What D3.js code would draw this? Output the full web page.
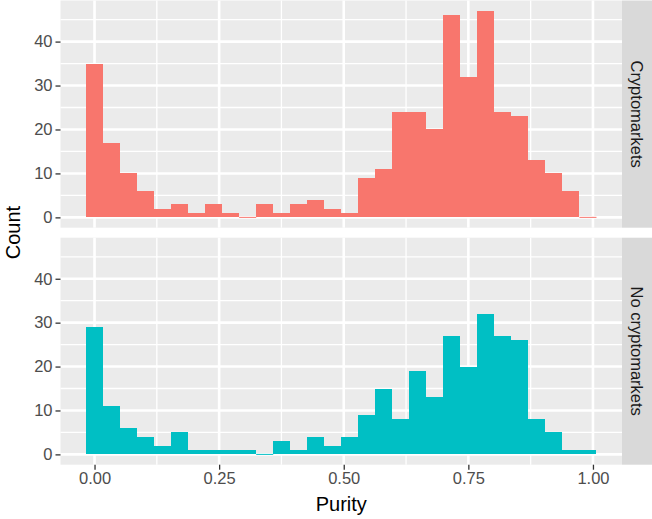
<!DOCTYPE html>
<html>
<head>
<meta charset="utf-8">
<script src="https://cdn.jsdelivr.net/npm/d3@7"></script>
<style>
  body { margin: 0; background: #fff; }
  svg { display: block; font-family: 'Liberation Sans', Arial, sans-serif; }
</style>
</head>
<body>
<svg id="chart"></svg>
<script>
// histogram counts, 30 bins centred on 0 .. 0.99
const purityMin = 0
const purityMax = 0.99
const binCount = 30
const facets = ['Cryptomarkets', 'No cryptomarkets']
const cryptoCounts = [35, 17, 10, 6, 2, 3, 1, 3, 1, 0, 3, 1, 3, 4, 2, 1, 9, 11, 24, 24, 20, 46, 32, 47, 24, 23, 13, 10, 6, 0]
const noCryptoCounts = [29, 11, 6, 4, 2, 5, 1, 1, 1, 1, 0, 3, 1, 4, 2, 4, 9, 15, 8, 19, 13, 27, 20, 32, 27, 26, 8, 5, 1, 1]
const colors = ['#F8766D', '#00BFC4']
const xTicks = [0, 0.25, 0.5, 0.75, 1]
const xMinor = [0.125, 0.375, 0.625, 0.875]
const yTicks = [0, 10, 20, 30, 40]
const yMinor = [5, 15, 25, 35, 45]

const width = 652
const height = 519
const svg = d3.select('#chart').attr('width', width).attr('height', height)

const panelLeft = 60.5
const panelRight = 622
const stripW = 30
const panels = [
    { top: 0.5, bottom: 227.7, counts: cryptoCounts },
    { top: 237.7, bottom: 464.7, counts: noCryptoCounts }
]

const bw = (purityMax - purityMin) / (binCount - 1)
const lo = purityMin - bw / 2
const hi = purityMax + bw / 2
const xPad = (hi - lo) * 0.05

const x = d3.scaleLinear()
    .domain([lo - xPad, hi + xPad])
    .range([panelLeft, panelRight])

const yMax = d3.max(cryptoCounts.concat(noCryptoCounts))
const yPad = yMax * 0.05

panels.forEach((p, pi) => {

    const y = d3.scaleLinear()
        .domain([-yPad, yMax + yPad])
        .range([p.bottom, p.top])

    const g = svg.append('g')

    g.append('rect')
        .attr('x', panelLeft)
        .attr('y', p.top)
        .attr('width', panelRight - panelLeft)
        .attr('height', p.bottom - p.top)
        .attr('fill', '#EBEBEB')

    // minor grid
    g.selectAll('.xminor')
        .data(xMinor)
        .enter()
        .append('line')
        .attr('x1', d => x(d)).attr('x2', d => x(d))
        .attr('y1', p.top).attr('y2', p.bottom)
        .attr('stroke', '#fff').attr('stroke-width', 1.3)

    g.selectAll('.yminor')
        .data(yMinor)
        .enter()
        .append('line')
        .attr('x1', panelLeft).attr('x2', panelRight)
        .attr('y1', d => y(d)).attr('y2', d => y(d))
        .attr('stroke', '#fff').attr('stroke-width', 1.3)

    // major grid
    g.selectAll('.xmajor')
        .data(xTicks)
        .enter()
        .append('line')
        .attr('x1', d => x(d)).attr('x2', d => x(d))
        .attr('y1', p.top).attr('y2', p.bottom)
        .attr('stroke', '#fff').attr('stroke-width', 2.6)

    g.selectAll('.ymajor')
        .data(yTicks)
        .enter()
        .append('line')
        .attr('x1', panelLeft).attr('x2', panelRight)
        .attr('y1', d => y(d)).attr('y2', d => y(d))
        .attr('stroke', '#fff').attr('stroke-width', 2.6)

    // bars
    g.selectAll('.bar')
        .data(p.counts)
        .enter()
        .append('rect')
        .attr('x', (d, i) => x(lo + i * bw))
        .attr('width', (d, i) => x(lo + (i + 1) * bw) - x(lo + i * bw))
        .attr('y', d => y(d))
        .attr('height', d => y(0) - y(d))
        .attr('fill', colors[pi])
        .attr('shape-rendering', 'crispEdges')

    // empty bins still leave a hairline on the baseline
    g.selectAll('.empty')
        .data(p.counts.map((d, i) => ({ d, i })).filter(b => b.d === 0))
        .enter()
        .append('line')
        .attr('x1', b => x(lo + b.i * bw))
        .attr('x2', b => x(lo + (b.i + 1) * bw))
        .attr('y1', y(0)).attr('y2', y(0))
        .attr('stroke', colors[pi])
        .attr('stroke-width', 1)

    // y axis
    const yAxis = d3.axisLeft(y)
        .tickValues(yTicks)
        .tickSize(5)
        .tickPadding(3)

    const ya = svg.append('g')
        .attr('transform', `translate(${panelLeft},0)`)
        .call(yAxis)
    ya.select('.domain').remove()
    ya.selectAll('line').attr('stroke', '#333333').attr('stroke-width', 1.3)
    ya.selectAll('text')
        .attr('fill', '#4D4D4D')
        .style('font-size', '16.5px')
        .style('font-family', "'Liberation Sans', Arial, sans-serif")

    // strip
    svg.append('rect')
        .attr('x', panelRight)
        .attr('y', p.top)
        .attr('width', stripW)
        .attr('height', p.bottom - p.top)
        .attr('fill', '#D9D9D9')

    svg.append('text')
        .attr('transform', `translate(${panelRight + stripW / 2},${(p.top + p.bottom) / 2}) rotate(90)`)
        .attr('text-anchor', 'middle')
        .attr('dy', '0.35em')
        .attr('fill', '#1A1A1A')
        .style('font-size', '16.5px')
        .text(facets[pi])
})

// x axis
const xAxis = d3.axisBottom(x)
    .tickValues(xTicks)
    .tickFormat(d3.format('.2f'))
    .tickSize(5)
    .tickPadding(3)

const xa = svg.append('g')
    .attr('transform', `translate(0,${panels[1].bottom})`)
    .call(xAxis)
xa.select('.domain').remove()
xa.selectAll('line').attr('stroke', '#333333').attr('stroke-width', 1.3)
xa.selectAll('text')
    .attr('fill', '#4D4D4D')
    .style('font-size', '16.5px')
    .style('font-family', "'Liberation Sans', Arial, sans-serif")

svg.append('text')
    .attr('x', (panelLeft + panelRight) / 2)
    .attr('y', 511)
    .attr('text-anchor', 'middle')
    .attr('fill', '#000')
    .style('font-size', '20px')
    .text('Purity')

svg.append('text')
    .attr('transform', `translate(20,${(panels[0].top + panels[1].bottom) / 2}) rotate(-90)`)
    .attr('text-anchor', 'middle')
    .attr('fill', '#000')
    .style('font-size', '20px')
    .text('Count')
</script>
</body>
</html>
